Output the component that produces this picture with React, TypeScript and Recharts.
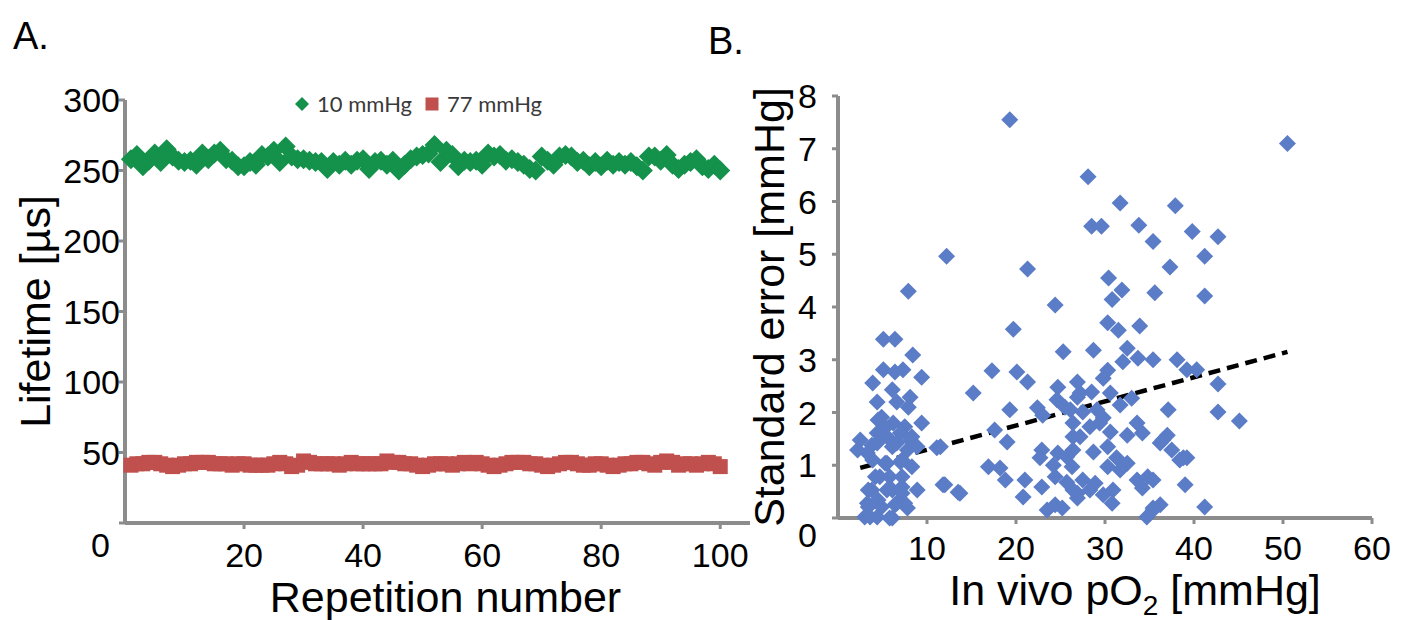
import React from 'react';
import { Legend, ReferenceLine, Label, Scatter, ScatterChart, XAxis, YAxis } from 'recharts';

const FONT = '"Liberation Sans", Arial, Helvetica, sans-serif';
const LEGEND_FONT = 'Lato, "Open Sans", sans-serif';
const AXIS = '#8c8c8c';
const GREEN = '#14914a';
const RED = '#c0504d';
const BLUE = '#5b7cc6';

// panel A
const A_XTICKS = [20, 40, 60, 80, 100];
const A_YTICKS = [0, 50, 100, 150, 200, 250, 300];
const SERIES_10 = '10 mmHg';
const SERIES_77 = '77 mmHg';
const LIFETIME_10 = [
  258, 261, 253, 257, 262, 256, 265, 260, 257, 256,
  257, 254, 262, 258, 262, 264, 258, 257, 253, 253,
  256, 254, 261, 260, 264, 256, 267, 260, 258, 258,
  257, 256, 256, 251, 256, 254, 257, 254, 257, 258,
  251, 256, 257, 254, 257, 250, 254, 258, 260, 261,
  262, 268, 256, 264, 261, 253, 257, 256, 257, 254,
  262, 260, 261, 257, 258, 256, 254, 251, 250, 260,
  257, 254, 260, 261, 260, 256, 257, 253, 256, 253,
  257, 254, 256, 254, 256, 253, 250, 260, 260, 257,
  261, 254, 251, 254, 256, 258, 253, 251, 254, 250,
];
const LIFETIME_77 = [
  41, 42, 42, 43, 43, 42, 41, 40, 41, 42,
  42, 43, 43, 43, 42, 42, 42, 41, 42, 42,
  41, 41, 41, 41, 42, 43, 42, 40, 41, 44,
  43, 42, 42, 42, 42, 41, 42, 43, 42, 42,
  42, 42, 42, 44, 43, 43, 42, 42, 41, 40,
  41, 42, 42, 42, 41, 42, 43, 42, 43, 42,
  41, 40, 41, 42, 43, 43, 43, 42, 42, 41,
  40, 41, 42, 43, 43, 42, 41, 41, 42, 42,
  41, 40, 41, 42, 42, 43, 43, 42, 41, 43,
  44, 43, 41, 42, 42, 41, 42, 43, 42, 40,
];
const REPS = LIFETIME_10.map((_, i) => i + 1);

// panel B
const B_XTICKS = [10, 20, 30, 40, 50, 60];
const B_YTICKS = [0, 1, 2, 3, 4, 5, 6, 7, 8];
const PO2_SE: [number, number][] = [
  [50.5, 7.1], [19.3, 7.55], [28.1, 6.47], [31.7, 5.97], [37.9, 5.92], [28.5, 5.53], [29.6, 5.53],
  [33.8, 5.55], [39.8, 5.43], [42.7, 5.33], [35.4, 5.24], [12.2, 4.96], [41.2, 4.96], [21.3, 4.72],
  [37.3, 4.76], [30.4, 4.55], [31.9, 4.32], [30.8, 4.14], [35.6, 4.27], [41.2, 4.21], [7.9, 4.3],
  [24.4, 4.04], [30.3, 3.7], [31.5, 3.56], [33.9, 3.64], [19.7, 3.58], [5.1, 3.39], [6.4, 3.39],
  [28.7, 3.18], [25.3, 3.15], [8.4, 3.09], [32.5, 3.22], [32.0, 2.96], [33.7, 3.03], [35.4, 3.0],
  [38.1, 3.0], [39.2, 2.81], [40.3, 2.81], [30.3, 2.8], [29.8, 2.65], [26.9, 2.58], [42.7, 2.54],
  [17.3, 2.79], [20.1, 2.77], [21.3, 2.58], [5.1, 2.81], [3.9, 2.56], [6.4, 2.77], [7.3, 2.81],
  [9.4, 2.67], [15.2, 2.37], [24.7, 2.48], [24.6, 2.24], [25.5, 2.1], [26.9, 2.29], [28.5, 2.39],
  [27.2, 2.37], [30.6, 2.37], [31.7, 2.14], [33.0, 2.27], [4.4, 2.2], [6.1, 2.43], [6.6, 2.2],
  [8.1, 2.29], [7.9, 2.1], [19.3, 2.05], [22.4, 2.09], [23.0, 1.95], [37.1, 2.05], [42.7, 2.01],
  [26.1, 2.05], [27.5, 2.01], [29.1, 2.05], [29.8, 1.9], [45.1, 1.84], [4.9, 1.91], [6.2, 1.8],
  [7.5, 1.73], [8.3, 1.54], [9.4, 1.8], [4.5, 1.86], [4.4, 1.61], [5.3, 1.71], [7.0, 1.61],
  [26.4, 1.8], [28.3, 1.73], [29.4, 1.8], [30.6, 1.63], [33.6, 1.8], [32.5, 1.57], [34.2, 1.61],
  [27.2, 1.54], [26.4, 1.54], [17.6, 1.67], [19.0, 1.44], [37.0, 1.57], [36.2, 1.42], [36.5, 1.48],
  [2.5, 1.48], [3.3, 1.23], [4.4, 1.42], [5.5, 1.54], [6.6, 1.42], [2.2, 1.29], [3.8, 1.38],
  [6.1, 1.35], [7.8, 1.29], [8.1, 1.48], [8.9, 1.35], [11.1, 1.33], [11.5, 1.35], [37.5, 1.29],
  [38.8, 1.14], [38.4, 1.1], [39.2, 1.14], [26.4, 1.29], [28.7, 1.25], [30.3, 1.35], [22.9, 1.29],
  [22.7, 1.14], [24.7, 1.23], [25.7, 1.16], [3.9, 1.1], [5.5, 1.04], [7.0, 1.06], [8.3, 0.97],
  [5.3, 1.04], [7.2, 1.1], [31.3, 1.14], [32.5, 1.04], [30.3, 0.97], [31.7, 0.91], [16.9, 0.97],
  [18.2, 0.95], [24.2, 1.0], [26.3, 0.97], [4.7, 0.78], [5.8, 0.78], [4.2, 0.78], [7.2, 0.78],
  [3.8, 0.53], [5.5, 0.53], [7.2, 0.59], [8.9, 0.53], [3.4, 0.53], [6.1, 0.53], [7.2, 0.47],
  [11.8, 0.63], [13.5, 0.49], [12.0, 0.63], [13.7, 0.47], [18.8, 0.72], [21.0, 0.72], [24.4, 0.78],
  [25.7, 0.68], [27.5, 0.72], [28.9, 0.66], [33.6, 0.72], [34.8, 0.78], [34.2, 0.57], [35.4, 0.72],
  [39.0, 0.63], [22.9, 0.59], [20.8, 0.4], [26.9, 0.47], [26.4, 0.53], [26.9, 0.38], [28.3, 0.53],
  [29.8, 0.44], [30.9, 0.53], [30.8, 0.28], [3.3, 0.28], [4.5, 0.34], [6.6, 0.28], [7.8, 0.19],
  [3.4, 0.21], [4.9, 0.21], [6.4, 0.25], [7.5, 0.28], [3.0, 0.02], [4.4, 0.02], [6.1, 0.0],
  [3.6, 0.02], [5.8, 0.0], [23.5, 0.15], [24.4, 0.25], [25.2, 0.19], [35.4, 0.19], [34.7, 0.02],
  [36.2, 0.25], [35.4, 0.15], [41.2, 0.21],
];
const TREND_PO2 = [2.5, 50.5];
const TREND_SE = [0.95, 3.15];

const data10 = REPS.map((rep, i) => ({ rep, lifetime: LIFETIME_10[i] }));
const data77 = REPS.map((rep, i) => ({ rep, lifetime: LIFETIME_77[i] }));
const dataB = PO2_SE.map(([po2, se]) => ({ po2, se }));

const diamond = (r: number) => (props: any) => {
  const { cx, cy, fill } = props;
  if (cx == null || cy == null) return <g />;
  return <path d={`M${cx},${cy - r}L${cx + r},${cy}L${cx},${cy + r}L${cx - r},${cy}Z`} fill={fill} />;
};

const square = (s: number) => (props: any) => {
  const { cx, cy, fill } = props;
  if (cx == null || cy == null) return <g />;
  return <rect x={cx - s / 2} y={cy - s / 2} width={s} height={s} fill={fill} />;
};

const tickText = { fontFamily: FONT, fontSize: 34, fill: '#000' };

const yTick = (gap: number, zeroDx: number, zeroDy: number) => (props: any) => {
  const { x, y, payload } = props;
  const zero = payload.value === 0;
  return (
    <text x={x + gap + (zero ? zeroDx : 0)} y={y + (zero ? zeroDy : 0)} dy="0.355em" textAnchor="end" {...tickText}>
      {payload.value}
    </text>
  );
};

const xTick = (down: number) => (props: any) => {
  const { x, y, payload } = props;
  return (
    <text x={x} y={y + down} dy="0.355em" textAnchor="middle" {...tickText}>
      {payload.value}
    </text>
  );
};

const titleStyle = { fontFamily: FONT, fontSize: 43, fill: '#000' };

const LegendA = ({ payload }: any) => (
  <div style={{ display: 'flex', alignItems: 'center', fontFamily: LEGEND_FONT, fontSize: 22, color: '#3a3a3a', whiteSpace: 'nowrap' }}>
    {(payload || []).map((p: any) => (
      <span key={p.value} style={{ display: 'flex', alignItems: 'center', marginRight: 12 }}>
        <svg width={16} height={16}>
          {p.value === SERIES_10 ? (
            <path d="M8,1L15,8L8,15L1,8Z" fill={p.color} />
          ) : (
            <rect x={1.5} y={1.5} width={13} height={13} fill={p.color} />
          )}
        </svg>
        <span style={{ marginLeft: 7 }}>{p.value}</span>
      </span>
    ))}
  </div>
);

function PanelA() {
  return (
    <ScatterChart width={760} height={620} margin={{ top: 100, right: 10, left: 0, bottom: 0 }}>
      <XAxis
        type="number"
        dataKey="rep"
        domain={[0, 105]}
        ticks={A_XTICKS}
        interval={0}
        height={97}
        axisLine={{ stroke: AXIS, strokeWidth: 4 }}
        tickLine={{ stroke: AXIS, strokeWidth: 3 }}
        tickSize={6}
        tickMargin={0}
        tick={xTick(26)}
      >
        <Label
          content={({ viewBox }: any) => (
            <text x={viewBox.x + viewBox.width / 2 + 8} y={viewBox.y + 74} dy="0.355em" textAnchor="middle" {...titleStyle}>
              Repetition number
            </text>
          )}
        />
      </XAxis>
      <YAxis
        type="number"
        dataKey="lifetime"
        domain={[0, 300]}
        ticks={A_YTICKS}
        interval={0}
        width={125}
        axisLine={{ stroke: AXIS, strokeWidth: 4 }}
        tickLine={{ stroke: AXIS, strokeWidth: 3 }}
        tickSize={6}
        tickMargin={0}
        tick={yTick(1, -10, 22)}
      >
        <Label
          content={({ viewBox }: any) => {
            const cx = viewBox.x + 35;
            const cy = viewBox.y + viewBox.height / 2;
            return (
              <text x={cx} y={cy} dy="0.355em" textAnchor="middle" transform={`rotate(-90 ${cx} ${cy})`} {...titleStyle}>
                Lifetime [µs]
              </text>
            );
          }}
        />
      </YAxis>
      <Legend
        layout="horizontal"
        verticalAlign="middle"
        align="center"
        content={LegendA}
        wrapperStyle={{ top: 90, left: 294, width: 300 }}
      />
      <Scatter name={SERIES_10} data={data10} fill={GREEN} shape={diamond(10)} isAnimationActive={false} />
      <Scatter name={SERIES_77} data={data77} fill={RED} shape={square(15)} isAnimationActive={false} />
    </ScatterChart>
  );
}

function PanelB() {
  return (
    <ScatterChart width={708} height={620} margin={{ top: 96, right: 36, left: 0, bottom: 0 }}>
      <XAxis
        type="number"
        dataKey="po2"
        domain={[0, 60]}
        ticks={B_XTICKS}
        interval={0}
        height={102}
        axisLine={{ stroke: AXIS, strokeWidth: 4 }}
        tickLine={{ stroke: AXIS, strokeWidth: 3 }}
        tickSize={6}
        tickMargin={0}
        tick={xTick(24)}
      >
        <Label
          content={({ viewBox }: any) => (
            <text x={viewBox.x + viewBox.width / 2 + 30} y={viewBox.y + 72} dy="0.355em" textAnchor="middle" {...titleStyle}>
              In vivo pO
              <tspan dy={10} fontSize={28}>2</tspan>
              <tspan dy={-10}> [mmHg]</tspan>
            </text>
          )}
        />
      </XAxis>
      <YAxis
        type="number"
        dataKey="se"
        domain={[0, 8]}
        ticks={B_YTICKS}
        interval={0}
        width={138}
        axisLine={{ stroke: AXIS, strokeWidth: 4 }}
        tickLine={{ stroke: AXIS, strokeWidth: 3 }}
        tickSize={6}
        tickMargin={0}
        tick={yTick(-15, 0, 17)}
      >
        <Label
          content={({ viewBox }: any) => {
            const cx = viewBox.x + 69;
            const cy = viewBox.y + viewBox.height / 2;
            return (
              <text x={cx} y={cy} dy="0.355em" textAnchor="middle" transform={`rotate(-90 ${cx} ${cy})`} {...titleStyle}>
                Standard error [mmHg]
              </text>
            );
          }}
        />
      </YAxis>
      <Scatter data={dataB} fill={BLUE} shape={diamond(8.5)} isAnimationActive={false} />
      <ReferenceLine
        segment={[
          { x: TREND_PO2[0], y: TREND_SE[0] },
          { x: TREND_PO2[1], y: TREND_SE[1] },
        ]}
        stroke="#000"
        strokeWidth={4.5}
        strokeDasharray="12 7"
      />
    </ScatterChart>
  );
}

const panelLetter = { position: 'absolute' as const, fontFamily: FONT, fontSize: 38, lineHeight: 1, color: '#000' };

export default function App() {
  return (
    <div style={{ position: 'absolute', top: 0, left: 0, width: 1408, height: 620, background: '#fff', overflow: 'hidden' }}>
      <div style={{ position: 'absolute', left: 0, top: 0 }}>
        <PanelA />
      </div>
      <div style={{ position: 'absolute', left: 700, top: 0 }}>
        <PanelB />
      </div>
      <div style={{ ...panelLetter, left: 13, top: 17 }}>A.</div>
      <div style={{ ...panelLetter, left: 708, top: 22 }}>B.</div>
    </div>
  );
}
